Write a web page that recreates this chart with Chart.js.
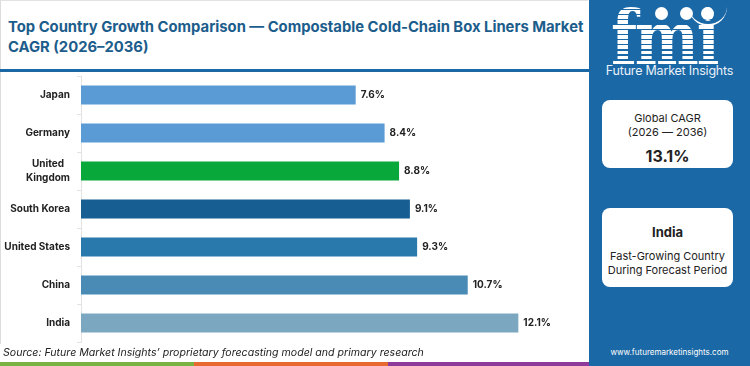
<!DOCTYPE html>
<html>
<head>
<meta charset="utf-8">
<script src="https://cdn.jsdelivr.net/npm/chart.js@4.4.1/dist/chart.umd.min.js"></script>
<style>
  html, body { margin: 0; padding: 0; background: #fff; }
  body { width: 750px; height: 366px; position: relative; overflow: hidden; font-family: "Inter", "Noto Sans", sans-serif; }
  #frame { position: absolute; left: 0; top: 0; width: 588px; height: 344px; border-left: 1px solid #dcdcdc; border-top: 1px solid #e2e2e2; box-sizing: border-box; }
  #title { position: absolute; left: 8px; top: 17px; white-space: nowrap; font-weight: 700; font-size: 14.8px; line-height: 20px; color: #1c5d8c; }
  #rule { position: absolute; left: 0; top: 69px; width: 590px; height: 3px; background: #1b68a6; }
  #chartBox { position: absolute; left: 0; top: 72px; width: 588px; height: 280px; }
  #source { position: absolute; left: 3px; top: 346px; font-size: 10.6px; font-style: italic; color: #222; }
  .strip { position: absolute; top: 362px; height: 4px; }
  #panel { position: absolute; left: 589px; top: 0; width: 161px; height: 366px; background: #1b68a6; color: #fff; overflow: hidden; }
  #logo { position: absolute; left: 22px; top: 0; height: 56px; font-family: "DejaVu Serif", serif; font-weight: 700; font-size: 56px; letter-spacing: -2px; line-height: 56px;
    transform: scale(1.08, 1.33); transform-origin: 0 0;
    background: repeating-linear-gradient(#fff 0 2.6px, transparent 2.6px 3.8px); -webkit-background-clip: text; background-clip: text; color: transparent; }
  .dot { position: absolute; width: 13px; height: 13px; border-radius: 50%; background: #fff; top: 7px; }
  #arc { position: absolute; left: 100px; top: 4px; width: 38px; height: 20px; border-bottom: 2px solid #fff; border-radius: 0 0 30px 30px; }
  #brand { position: absolute; left: 0; width: 161px; top: 63px; text-align: center; font-size: 12.5px; line-height: 16px; color: #e8f0f8; letter-spacing: -0.2px; }
  .card { position: absolute; left: 13px; width: 131px; background: #fff; border-radius: 8px; color: #222; text-align: center; }
  #site { position: absolute; left: 0; width: 161px; top: 347px; text-align: center; font-size: 8px; color: #fff; }
</style>
</head>
<body>
<div id="frame"></div>
<div id="title">Top Country Growth Comparison — Compostable Cold-Chain Box Liners Market<br>CAGR (2026–2036)</div>
<div id="rule"></div>
<div id="chartBox"><canvas id="growthChart" width="588" height="280" style="width:588px;height:280px;"></canvas></div>
<div id="source">Source: Future Market Insights’ proprietary forecasting model and primary research</div>
<div class="strip" style="left:0;width:194px;background:#7bb342;"></div>
<div class="strip" style="left:194px;width:194px;background:#e8692e;"></div>
<div class="strip" style="left:388px;width:201px;background:#8e3a9a;"></div>

<div id="panel">
  <div id="logo">fmi</div>
  <div id="arc"></div>
  <div class="dot" style="left:66px;"></div>
  <div class="dot" style="left:91px;"></div>
  <div class="dot" style="left:112px;"></div>
  <div id="brand">Future Market Insights</div>
  <div class="card" style="top:100px;height:68px;">
    <div style="font-size:11px;margin-top:11px;line-height:14px;">Global CAGR<br>(2026 — 2036)</div>
    <div style="font-size:16px;font-weight:700;margin-top:7px;">13.1%</div>
  </div>
  <div class="card" style="top:208px;height:79px;">
    <div style="font-size:13px;font-weight:700;margin-top:16px;">India</div>
    <div style="font-size:11px;margin-top:9px;line-height:14px;">Fast-Growing Country<br>During Forecast Period</div>
  </div>
  <div id="site">www.futuremarketinsights.com</div>
</div>

<script>
// ============ Data ============
const countries = ["Japan", "Germany", ["United", "Kingdom"], "South Korea", "United States", "China", "India"];
const cagr = [7.6, 8.4, 8.8, 9.1, 9.3, 10.7, 12.1];
const barColors = ["#5b9bd5", "#5b9bd5", "#08a83a", "#175f92", "#2a79ad", "#4a8bb6", "#7ca7c0"];

// ============ Plugins ============
// y labels: block right-aligned, each line centered inside the block
const categoryLabels = {
  id: "categoryLabels",
  afterDraw(chart) {
    const ctx = chart.ctx;
    const y = chart.scales.y;
    ctx.save();
    ctx.font = "700 10px Inter, sans-serif";
    ctx.fillStyle = "#222";
    ctx.textAlign = "center";
    ctx.textBaseline = "middle";
    const right = 70;
    chart.data.labels.forEach((lab, i) => {
      const lines = Array.isArray(lab) ? lab : [lab];
      const w = Math.max(...lines.map(l => ctx.measureText(l).width));
      const cx = right - w / 2;
      const cy = y.getPixelForTick(i);
      const lh = 14;
      lines.forEach((l, k) => {
        ctx.fillText(l, cx, cy + (k - (lines.length - 1) / 2) * lh);
      });
    });
    ctx.restore();
  }
};

const valueLabels = {
  id: "valueLabels",
  afterDatasetsDraw(chart) {
    const ctx = chart.ctx;
    const meta = chart.getDatasetMeta(0);
    ctx.save();
    ctx.font = "700 10px Inter, sans-serif";
    ctx.fillStyle = "#222";
    ctx.textAlign = "left";
    ctx.textBaseline = "middle";
    meta.data.forEach((bar, i) => {
      ctx.fillText(cagr[i].toFixed(1) + "%", bar.x + 5, bar.y);
    });
    ctx.restore();
  }
};

// ============ Chart ============
new Chart(document.getElementById("growthChart"), {
  type: "bar",
  data: {
    labels: countries,
    datasets: [{
      data: cagr,
      backgroundColor: barColors,
      barPercentage: 0.5,
      categoryPercentage: 1.0
    }]
  },
  options: {
    indexAxis: "y",
    responsive: false,
    animation: false,
    maintainAspectRatio: false,
    layout: { padding: { top: 4, bottom: 10, right: 1, left: 0 } },
    plugins: { legend: { display: false }, tooltip: { enabled: false } },
    scales: {
      x: { display: false, min: 0, max: 14 },
      y: {
        afterFit: s => { s.width = 81; },
        ticks: { display: false },
        grid: { drawOnChartArea: false, tickLength: 4, color: "#e3e3e3", offset: true },
        border: { display: true, color: "#e3e3e3" }
      }
    }
  },
  plugins: [categoryLabels, valueLabels]
});
</script>
</body>
</html>
